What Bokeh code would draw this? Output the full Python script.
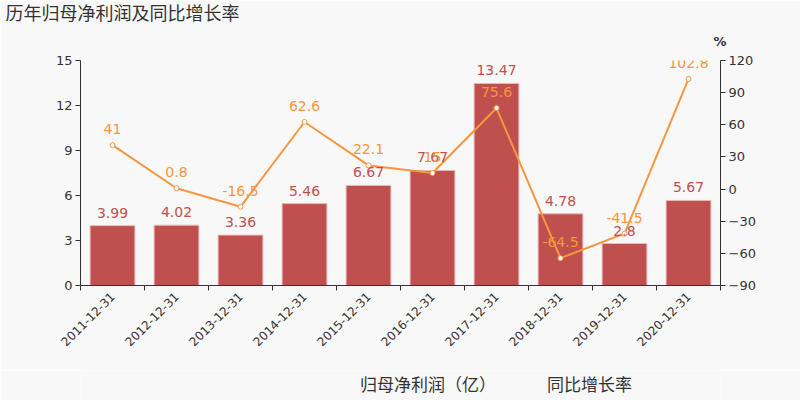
from bokeh.plotting import figure
from bokeh.layouts import column
from bokeh.models import (ColumnDataSource, Range1d, LinearAxis, FixedTicker, Title,
                          LabelSet, Legend, LegendItem)
from bokeh.core.properties import value
from bokeh.embed import file_html
from bokeh.resources import INLINE

categories = ["2011-12-31", "2012-12-31", "2013-12-31", "2014-12-31", "2015-12-31",
              "2016-12-31", "2017-12-31", "2018-12-31", "2019-12-31", "2020-12-31"]
profit = [3.99, 4.02, 3.36, 5.46, 6.67, 7.67, 13.47, 4.78, 2.8, 5.67]
growth = [41, 0.8, -16.5, 62.6, 22.1, 15, 75.6, -64.5, -41.5, 102.8]
left_ticks = [0, 3, 6, 9, 12, 15]
right_ticks = [-90, -60, -30, 0, 30, 60, 90, 120]
series_names = ["归母净利润（亿）", "同比增长率"]

BAR = "#c0504d"
LINE = "#f7963f"
TXT = "#333333"
BG = "#f8f8f8"
NUMFONT = "DejaVu Sans"
CJK = "Noto Sans CJK SC"

def fmt(v):
    return ("%g" % v)

xs = list(range(len(categories)))
src = ColumnDataSource(dict(
    x=xs, profit=profit, growth=growth,
    plabel=[fmt(v) for v in profit], glabel=[fmt(v) for v in growth]))

p = figure(frame_width=640, frame_height=225, output_backend="svg", toolbar_location=None,
           x_range=Range1d(-0.5, len(categories) - 0.5),
           y_range=Range1d(min(left_ticks), max(left_ticks)),
           min_border_left=80, min_border_right=80, min_border_top=60, min_border_bottom=85)
p.background_fill_color = BG
p.border_fill_color = BG
p.outline_line_color = None
p.xgrid.visible = False
p.ygrid.visible = False

p.extra_y_ranges = {"g": Range1d(min(right_ticks), max(right_ticks))}

bar_style = dict(fill_color=BAR, line_color="#e9b9b8", line_width=1)
line_style = dict(line_color=LINE, line_width=2)
pt_style = dict(size=5, fill_color="white", line_color=LINE, line_width=1)

p.vbar(x="x", top="profit", width=0.7, source=src, **bar_style)
p.line(x="x", y="growth", source=src, y_range_name="g", **line_style)
p.scatter(x="x", y="growth", source=src, y_range_name="g", **pt_style)

p.add_layout(LabelSet(x="x", y="profit", text="plabel", source=src, y_offset=8,
                      text_align="center", text_baseline="bottom", text_color=BAR,
                      text_font_size="14px", text_font=value(NUMFONT)))
p.add_layout(LabelSet(x="x", y="growth", text="glabel", source=src, y_offset=11,
                      y_range_name="g", text_align="center", text_baseline="bottom",
                      text_color=LINE, text_font_size="14px", text_font=value(NUMFONT)))

p.yaxis[0].ticker = FixedTicker(ticks=left_ticks)
raxis = LinearAxis(y_range_name="g", ticker=FixedTicker(ticks=right_ticks))
p.add_layout(raxis, "right")

for ax in [p.yaxis[0], raxis]:
    ax.axis_line_color = TXT
    ax.major_tick_line_color = TXT
    ax.major_tick_in = 0
    ax.major_tick_out = 5
    ax.minor_tick_line_color = None
    ax.major_label_text_color = TXT
    ax.major_label_text_font = NUMFONT
    ax.major_label_text_font_size = "13px"
    ax.major_label_standoff = 3

xa = p.xaxis[0]
xa.ticker = FixedTicker(ticks=xs, minor_ticks=[i - 0.5 for i in range(len(categories) + 1)])
xa.major_label_overrides = {i: c for i, c in enumerate(categories)}
xa.major_label_orientation = 0.785398
xa.axis_line_color = TXT
xa.major_tick_line_color = None
xa.major_tick_in = 0
xa.major_tick_out = 0
xa.minor_tick_line_color = TXT
xa.minor_tick_in = 0
xa.minor_tick_out = 5
xa.major_label_text_color = TXT
xa.major_label_text_font = NUMFONT
xa.major_label_text_font_size = "12px"
xa.major_label_standoff = 4

# unit label (nearest the frame), then main title above it
p.add_layout(Title(text="%", align="right", offset=-6, standoff=23,
                   text_font=NUMFONT, text_font_size="13px", text_color=TXT,
                   text_font_style="bold"), "above")
p.add_layout(Title(text="历年归母净利润及同比增长率", align="left", offset=-75, standoff=-8,
                   text_font=CJK, text_font_size="18px", text_color=TXT,
                   text_font_style="normal"), "above")

# legend strip below the chart (same styles as the series)
lg = figure(width=800, height=30, output_backend="svg", toolbar_location=None,
            x_range=Range1d(0, 1), y_range=Range1d(0, 1),
            x_axis_location=None, y_axis_location=None, min_border=0)
lg.background_fill_color = BG
lg.border_fill_color = BG
lg.outline_line_color = None
lg.xgrid.visible = False
lg.ygrid.visible = False
empty = ColumnDataSource(dict(x=[], y=[]))
r_bar = lg.vbar(x="x", top="y", width=0.7, source=empty, **bar_style)
r_line = lg.line(x="x", y="y", source=empty, **line_style)
r_pt = lg.scatter(x="x", y="y", source=empty, **pt_style)

legend = Legend(items=[LegendItem(label=series_names[0], renderers=[r_bar]),
                       LegendItem(label=series_names[1], renderers=[r_line, r_pt])],
                orientation="horizontal", location=(247, 4),
                background_fill_alpha=0, border_line_color=None,
                label_text_font=CJK, label_text_font_size="17px", label_text_color=TXT,
                glyph_width=25, glyph_height=14, spacing=18, label_standoff=8,
                margin=0, padding=0)
lg.add_layout(legend, "center")

open("out.html", "w").write(file_html(column(p, lg, spacing=0), INLINE))
